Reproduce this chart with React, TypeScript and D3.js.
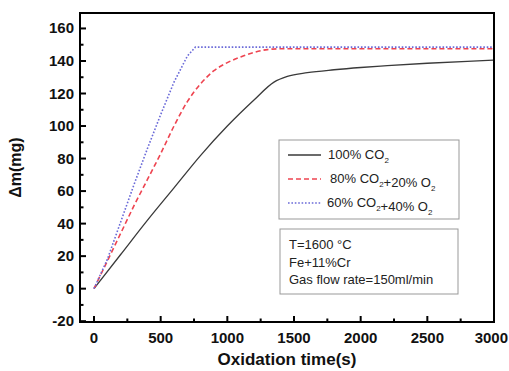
import * as d3 from "d3";

// ── Data ──────────────────────────────────────────────────────
const CO2_100: [number, number][] = [
  [0, 0], [200, 21], [400, 42], [600, 62], [800, 82], [1000, 100], [1200, 116],
  [1350, 127], [1450, 130.5], [1600, 132.8], [1800, 134.6], [2000, 136],
  [2200, 137.1], [2500, 138.6], [2800, 139.8], [3000, 140.5],
];
const CO2_80: [number, number][] = [
  [0, 0], [100, 17], [200, 34], [300, 51], [400, 67], [500, 83], [600, 100],
  [700, 115], [800, 126], [900, 134], [1000, 139], [1100, 142.5], [1200, 145.3],
  [1300, 147], [1400, 147.5], [3000, 147.5],
];
const CO2_60: [number, number][] = [
  [0, 0], [100, 18], [200, 41], [300, 64], [400, 86], [500, 107], [600, 127],
  [700, 143], [760, 148.5], [3000, 148.5],
];
const X_TICKS = [0, 500, 1000, 1500, 2000, 2500, 3000];
const Y_TICKS = [-20, 0, 20, 40, 60, 80, 100, 120, 140, 160];
const INFO = ["T=1600 °C", "Fe+11%Cr", "Gas flow rate=150ml/min"];

// ── Geometry ──────────────────────────────────────────────────
const W = 509;
const H = 371;
const L = 80, R = 494, T = 13, B = 322;
const FONT = "Liberation Sans, Arial, sans-serif";

const x = d3.scaleLinear().domain([-105, 3000]).range([L, R]);
const y = d3.scaleLinear().domain([-20.5, 169.5]).range([B, T]);

const smooth = d3.line<[number, number]>().x((d) => x(d[0])).y((d) => y(d[1])).curve(d3.curveMonotoneX);
const straight = d3.line<[number, number]>().x((d) => x(d[0])).y((d) => y(d[1]));

const SERIES = [
  { key: "100", data: CO2_100, color: "#3a3a3a", dash: "", width: 1.3, path: smooth },
  { key: "80", data: CO2_80, color: "#ee4450", dash: "5,3", width: 1.6, path: smooth },
  { key: "60", data: CO2_60, color: "#6a6ad8", dash: "1.6,1.8", width: 1.6, path: straight },
];

function Sub({ t }: { t: string }) {
  return (
    <>
      <tspan fontSize={8} dy={4}>{t}</tspan>
      <tspan dy={-4}>{""}</tspan>
    </>
  );
}

export default function App() {
  const minorX = d3.range(250, 3000, 500);
  const minorY = d3.range(-10, 170, 20);
  const legendRows = [155, 179, 203];

  return (
    <svg width={W} height={H} style={{ position: "absolute", left: 0, top: 0, background: "#fff" }} fontFamily={FONT}>
      {/* curves */}
      {SERIES.map((s) => (
        <path key={s.key} d={s.path(s.data) ?? ""} fill="none" stroke={s.color}
          strokeWidth={s.width} strokeDasharray={s.dash || undefined} />
      ))}

      {/* ticks (inward) */}
      {X_TICKS.map((t) => (
        <line key={`xt${t}`} x1={x(t)} x2={x(t)} y1={B} y2={B - 6} stroke="#000" strokeWidth={2} />
      ))}
      {minorX.map((t) => (
        <line key={`xm${t}`} x1={x(t)} x2={x(t)} y1={B} y2={B - 3.5} stroke="#000" strokeWidth={2} />
      ))}
      {Y_TICKS.map((t) => (
        <line key={`yt${t}`} x1={L} x2={L + 6} y1={y(t)} y2={y(t)} stroke="#000" strokeWidth={2} />
      ))}
      {minorY.map((t) => (
        <line key={`ym${t}`} x1={L} x2={L + 3.5} y1={y(t)} y2={y(t)} stroke="#000" strokeWidth={2} />
      ))}

      {/* frame */}
      <rect x={L} y={T} width={R - L} height={B - T} fill="none" stroke="#000" strokeWidth={2} />

      {/* tick labels */}
      {X_TICKS.map((t) => (
        <text key={`xl${t}`} x={t === 3000 ? W - 1 : x(t)} y={B + 21} textAnchor={t === 3000 ? "end" : "middle"}
          fontSize={15} fontWeight="bold" fill="#111">{t}</text>
      ))}
      {Y_TICKS.map((t) => (
        <text key={`yl${t}`} x={L - 6} y={y(t) + 5} textAnchor="end" fontSize={15} fontWeight="bold" fill="#111">{t}</text>
      ))}

      {/* axis titles */}
      <text x={(L + R) / 2} y={365} textAnchor="middle" fontSize={17} fontWeight="bold" fill="#111">Oxidation time(s)</text>
      <text x={21} y={(T + B) / 2} textAnchor="middle" fontSize={16} fontWeight="bold" fill="#111"
        transform={`rotate(-90, 21, ${(T + B) / 2})`}>Δm(mg)</text>

      {/* legend */}
      <rect x={279} y={140} width={180} height={79} fill="#fff" stroke="#999" strokeWidth={1} />
      {SERIES.map((s, i) => (
        <line key={`lg${s.key}`} x1={288} x2={321} y1={legendRows[i]} y2={legendRows[i]}
          stroke={s.color} strokeWidth={s.width} strokeDasharray={s.dash || undefined} />
      ))}
      <text x={328} y={legendRows[0] + 4} fontSize={13} fill="#222">100% CO<Sub t="2" /></text>
      <text x={330} y={legendRows[1] + 4} fontSize={13} fill="#222">
        80% CO<Sub t="2" />+20% O<Sub t="2" />
      </text>
      <text x={327} y={legendRows[2] + 4} fontSize={13} fill="#222">
        60% CO<Sub t="2" />+40% O<Sub t="2" />
      </text>

      {/* conditions box */}
      <rect x={280} y={229} width={178} height={65} fill="#fff" stroke="#999" strokeWidth={1} />
      {INFO.map((s, i) => (
        <text key={s} x={289} y={249 + i * 17.5} fontSize={13} fill="#222">{s}</text>
      ))}
    </svg>
  );
}
